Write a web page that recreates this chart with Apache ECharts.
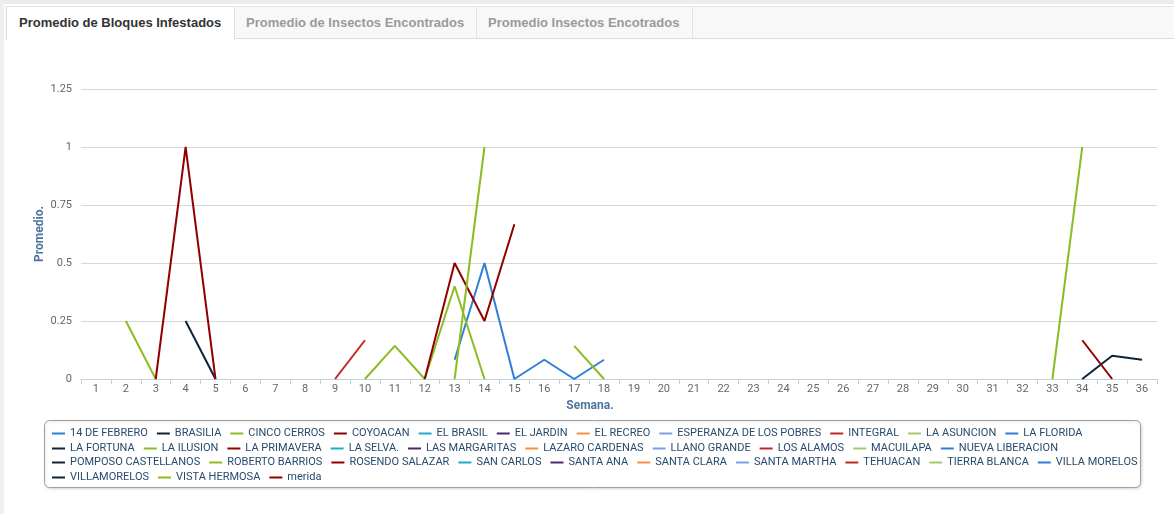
<!DOCTYPE html>
<html>
<head>
<meta charset="utf-8">
<script src="https://cdn.jsdelivr.net/npm/echarts@6/dist/echarts.min.js"></script>
<style>
    body { margin: 0; background: #fff; font-family: "Liberation Sans", Arial, sans-serif; }
    #wrap { position: relative; width: 1174px; height: 514px; overflow: hidden; }
    #topband { position: absolute; left: 0; top: 0; width: 1174px; height: 4px; background: #ececec; }
    #leftband { position: absolute; left: 0; top: 0; width: 4px; height: 514px; background: #efefef; }
    #tabbar { position: absolute; left: 5px; top: 6px; width: 1169px; height: 31px; background: #f8f8f8;
        border-top: 1px solid #e4e4e4; border-bottom: 1px solid #dcdcdc; }
    .tab { position: absolute; top: 6px; height: 32px; line-height: 32px; font-size: 13px; font-weight: bold;
        color: #9a9a9a; box-sizing: border-box; padding-left: 11px; border-right: 1px solid #e2e2e2; border-top: 1px solid #e4e4e4; }
    .tab.active { background: #fff; color: #333; height: 34px; border-left: 1px solid #e0e0e0; }
    #chart { position: absolute; left: 0; top: 0; width: 1174px; height: 514px; }
</style>
</head>
<body>
<div id="wrap">
    <div id="topband"></div>
    <div id="leftband"></div>
    <div id="tabbar"></div>
    <div class="tab active" style="left:6px;width:229px;padding-left:12px;">Promedio de Bloques Infestados</div>
    <div class="tab" style="left:235px;width:242px;">Promedio de Insectos Encontrados</div>
    <div class="tab" style="left:477px;width:216px;">Promedio Insectos Encotrados</div>
    <div id="chart"></div>
</div>
<script>
// semanas del eje x
var semanas = [];
for (var i = 1; i <= 36; i++) semanas.push(String(i));

// nombres de las localidades (orden de la leyenda)
var localidades = ['14 DE FEBRERO', 'BRASILIA', 'CINCO CERROS', 'COYOACAN', 'EL BRASIL', 'EL JARDIN',
    'EL RECREO', 'ESPERANZA DE LOS POBRES', 'INTEGRAL', 'LA ASUNCION', 'LA FLORIDA',
    'LA FORTUNA', 'LA ILUSION', 'LA PRIMAVERA', 'LA SELVA.', 'LAS MARGARITAS', 'LAZARO CARDENAS',
    'LLANO GRANDE', 'LOS ALAMOS', 'MACUILAPA', 'NUEVA LIBERACION',
    'POMPOSO CASTELLANOS', 'ROBERTO BARRIOS', 'ROSENDO SALAZAR', 'SAN CARLOS', 'SANTA ANA',
    'SANTA CLARA', 'SANTA MARTHA', 'TEHUACAN', 'TIERRA BLANCA', 'VILLA MORELOS',
    'VILLAMORELOS', 'VISTA HERMOSA', 'merida'];

// colores (se repiten cada 10)
var colores = ['#2f7ed8', '#0d233a', '#8bbc21', '#910000', '#1aadce',
    '#492970', '#f28f43', '#77a1e5', '#c42525', '#a6c96a'];

// datos: [semana, promedio], las semanas sin dato quedan vacias
var datos = {
    '14 DE FEBRERO': [[13, 0.083], [14, 0.5], [15, 0], [16, 0.083], [17, 0], [18, 0.083]],
    'BRASILIA': [[4, 0.25], [5, 0]],
    'CINCO CERROS': [[2, 0.25], [3, 0], [17, 0.143], [18, 0]],
    'COYOACAN': [[3, 0], [4, 1], [5, 0]],
    'INTEGRAL': [[9, 0], [10, 0.167]],
    'LA ILUSION': [[10, 0], [11, 0.143], [12, 0], [13, 0.4], [14, 0]],
    'LA PRIMAVERA': [[12, 0], [13, 0.5], [14, 0.25], [15, 0.667]],
    'ROBERTO BARRIOS': [[13, 0], [14, 1]],
    'VISTA HERMOSA': [[33, 0], [34, 1]],
    'VILLAMORELOS': [[34, 0], [35, 0.1], [36, 0.083]],
    'merida': [[34, 0.167], [35, 0]]
};

// filas de la leyenda
var filasLeyenda = [localidades.slice(0, 11), localidades.slice(11, 21),
    localidades.slice(21, 31), localidades.slice(31)];

var myChart = echarts.init(document.getElementById('chart'));

var series = localidades.map(function (nombre, i) {
    var valores = semanas.map(function () { return null; });
    (datos[nombre] || []).forEach(function (p) {
        valores[p[0] - 1] = p[1];
    });
    return {
        name: nombre,
        type: 'line',
        data: valores,
        showSymbol: false,
        symbol: 'none',
        connectNulls: false,
        silent: true,
        color: colores[i % colores.length],
        lineStyle: {width: 2}
    };
});

var legendTops = [428, 443, 457, 472];
var legends = filasLeyenda.map(function (fila, k) {
    return {
        data: fila,
        left: 52,
        top: legendTops[k],
        padding: 0,
        orient: 'horizontal',
        icon: 'rect',
        itemWidth: 13,
        itemHeight: 2,
        itemGap: 9,
        selectedMode: false,
        textStyle: {
            fontFamily: 'Roboto',
            fontSize: 11,
            color: '#274b6d'
        }
    };
});

var option = {
    animation: false,
    textStyle: {fontFamily: 'Roboto'},
    grid: {left: 81, right: 17, top: 89, bottom: 135},
    graphic: [{
        type: 'rect',
        z: -1,
        shape: {x: 44.5, y: 420.5, width: 1096, height: 67, r: 5},
        style: {fill: '#fff', stroke: '#a0a0a0', lineWidth: 1,
            shadowBlur: 3, shadowColor: 'rgba(0,0,0,0.15)', shadowOffsetX: 1, shadowOffsetY: 1}
    }],
    legend: legends,
    xAxis: {
        type: 'category',
        data: semanas,
        boundaryGap: true,
        name: 'Semana.',
        nameLocation: 'middle',
        nameGap: 21,
        nameMoveOverlap: false,
        nameTextStyle: {color: '#4d759e', fontWeight: 'bold', fontSize: 12, padding: [0, 58, 0, 0]},
        axisLine: {lineStyle: {color: '#c0d0e0'}},
        axisTick: {show: true, length: 5, lineStyle: {color: '#c0d0e0'}},
        axisLabel: {color: '#666', fontSize: 11, margin: 5}
    },
    yAxis: {
        type: 'value',
        min: 0,
        max: 1.25,
        interval: 0.25,
        name: 'Promedio.',
        nameLocation: 'middle',
        nameGap: 35,
        nameMoveOverlap: false,
        nameTextStyle: {color: '#4d759e', fontWeight: 'bold', fontSize: 12},
        axisLine: {show: false},
        axisTick: {show: false},
        axisLabel: {color: '#666', fontSize: 11, margin: 9},
        splitLine: {lineStyle: {color: '#d8d8d8'}}
    },
    series: series
};

myChart.setOption(option);
</script>
</body>
</html>
